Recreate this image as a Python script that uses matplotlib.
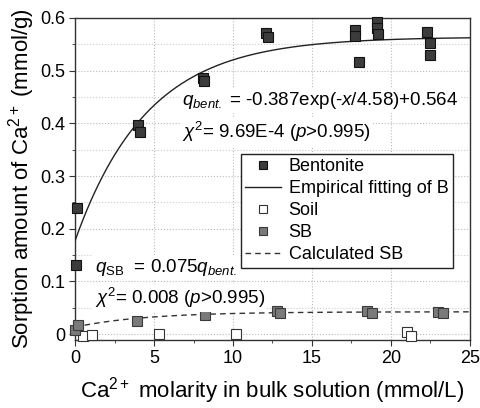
import numpy as np
import matplotlib
matplotlib.use("Agg")
import matplotlib.pyplot as plt
from matplotlib.ticker import MultipleLocator

plt.rcParams['font.family'] = ['Liberation Sans', 'DejaVu Sans']
plt.rcParams['mathtext.fontset'] = 'custom'
plt.rcParams['mathtext.rm'] = 'Liberation Sans'
plt.rcParams['mathtext.it'] = 'Liberation Sans:italic'
plt.rcParams['mathtext.bf'] = 'Liberation Sans:bold'

# --- data ---
bent_x = [0.1, 0.07, 4.0, 4.1, 8.1, 8.15, 12.1, 12.2, 17.7, 17.7, 18.0,
          19.1, 19.1, 19.2, 22.3, 22.5, 22.5]
bent_y = [0.239, 0.131, 0.397, 0.384, 0.486, 0.480, 0.571, 0.564, 0.577, 0.565, 0.516,
          0.592, 0.580, 0.569, 0.573, 0.552, 0.529]

soil_x = [0.5, 1.1, 5.3, 10.2, 21.0, 21.3]
soil_y = [-0.004, -0.002, 0.0, 0.0, 0.004, -0.003]

sb_x = [0.0, 0.2, 3.9, 8.2, 12.8, 13.0, 18.5, 18.8, 23.0, 23.3]
sb_y = [0.008, 0.017, 0.025, 0.036, 0.044, 0.040, 0.044, 0.040, 0.042, 0.040]

# empirical fit parameters
a, tau, b = -0.387, 4.58, 0.564
k_sb = 0.075

xf = np.linspace(0, 25, 300)
fit_b = a * np.exp(-xf / tau) + b
calc_sb = k_sb * fit_b

fig = plt.figure(figsize=(4.81, 4.08), dpi=100)
ax = fig.add_axes([0.156, 0.167, 0.821, 0.789])

ms = 7.5
ax.plot(bent_x, bent_y, 's', ms=ms, mfc='#3c3c3c', mec='#111111', mew=0.8,
        label='Bentonite', zorder=4, clip_on=False)
ax.plot(xf, fit_b, '-', color='#222222', lw=1.0, label='Empirical fitting of B', zorder=3)
ax.plot(soil_x, soil_y, 's', ms=ms, mfc='white', mec='#333333', mew=0.8,
        label='Soil', zorder=4, clip_on=False)
ax.plot(sb_x, sb_y, 's', ms=ms, mfc='#7a7a7a', mec='#3a3a3a', mew=0.8,
        label='SB', zorder=4, clip_on=False)
ax.plot(xf, calc_sb, '--', color='#333333', lw=1.0, dashes=(4, 3),
        label='Calculated SB', zorder=3)

ax.set_xlim(0, 25)
ax.set_ylim(-0.011, 0.6)
ax.xaxis.set_major_locator(MultipleLocator(5))
ax.xaxis.set_minor_locator(MultipleLocator(2.5))
ax.set_yticks([0, 0.1, 0.2, 0.3, 0.4, 0.5, 0.6])
ax.set_yticklabels(['0', '0.1', '0.2', '0.3', '0.4', '0.5', '0.6'])
ax.yaxis.set_minor_locator(MultipleLocator(0.05))
ax.tick_params(which='both', direction='out', labelsize=13, pad=3, color='#333333')
ax.tick_params(which='major', length=4)
ax.tick_params(which='minor', length=2.5)
ax.grid(True, which='major', ls=':', color='#bbbbbb', lw=0.8)
ax.grid(True, which='minor', axis='y', ls=':', color='#cccccc', lw=0.8)
ax.set_axisbelow(True)
for s in ax.spines.values():
    s.set_linewidth(1.0)
    s.set_color('#333333')

ax.set_xlabel(r'$\mathrm{Ca}^{2+}$ molarity in bulk solution (mmol/L)', fontsize=16, labelpad=6)
ax.set_ylabel(r'Sorption amount of $\mathrm{Ca}^{2+}$ (mmol/g)', fontsize=16, labelpad=2)

box = dict(facecolor='white', edgecolor='none', pad=1.5)
fs = 13.5
ax.text(6.8, 0.444, r'$q_{bent.}$ = -0.387exp(-$x$/4.58)+0.564', fontsize=fs,
        va='center', ha='left', bbox=box, zorder=5)
ax.text(6.8, 0.383, r'$\chi^2$= 9.69E-4 ($p$>0.995)', fontsize=fs,
        va='center', ha='left', bbox=box, zorder=5)
ax.text(1.25, 0.127, r'$q_{\rm SB}$  = 0.075$q_{bent.}$', fontsize=fs,
        va='center', ha='left', bbox=box, zorder=5)
ax.text(1.25, 0.068, r'$\chi^2$= 0.008 ($p$>0.995)', fontsize=fs,
        va='center', ha='left', bbox=box, zorder=5)

leg = ax.legend(loc='lower right', bbox_to_anchor=(0.957, 0.224), fontsize=13,
                frameon=True, fancybox=False, edgecolor='#222222', framealpha=1,
                handlelength=2.0, handletextpad=0.4, borderpad=0.25, labelspacing=0.28,
                borderaxespad=0, markerscale=0.85)
leg.get_frame().set_linewidth(1.0)
leg.set_zorder(6)

fig.savefig('out.png', dpi=100)
